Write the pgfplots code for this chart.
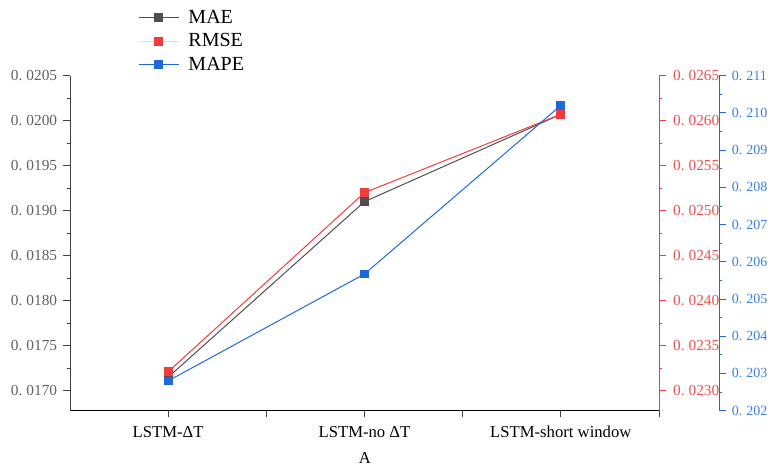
\documentclass[border=0pt]{standalone}
\usepackage{fontspec}
\setmainfont{Liberation Serif}
\usepackage{pgfplots}
\pgfplotsset{compat=1.18}
\definecolor{maec}{HTML}{4F4F4F}
\definecolor{rmsec}{HTML}{F03C3C}
\definecolor{rmsetick}{HTML}{F05050}
\definecolor{rmseleg}{HTML}{FFD0D0}
\definecolor{mapec}{HTML}{1F68DC}
\definecolor{mapetick}{HTML}{3A80E0}
\definecolor{lgray}{HTML}{606060}
\newcommand{\dsp}{\hspace{3pt}}
\begin{document}
\begin{tikzpicture}
\path[use as bounding box] (0,0) rectangle (576.75pt,349.5pt);
\pgfplotsset{
  every axis/.append style={
    scale only axis, anchor=south west, at={(52.5pt,41.5pt)},
    height=251.25pt, xmin=-0.5, scaled y ticks=false,
    tick align=outside, major tick length=5pt, minor tick length=2.5pt,
    line width=0.6pt,
  },
}
% main axis: MAE
\begin{axis}[
  width=441.75pt, xmax=2.5,
  ymin=0.016778, ymax=0.0205,
  axis x line*=bottom, axis y line*=left,
  ytick={0.0170,0.0175,0.0180,0.0185,0.0190,0.0195,0.0200,0.0205},
  yticklabels={0.\dsp 0170,0.\dsp 0175,0.\dsp 0180,0.\dsp 0185,0.\dsp 0190,0.\dsp 0195,0.\dsp 0200,0.\dsp 0205},
  minor y tick num=1,
  yticklabel style={font=\fontsize{11.5}{13}\selectfont, text=lgray, xshift=-1pt},
  xtick={0,0.5,1,1.5,2,2.5},
  xticklabels={LSTM-ΔT,,LSTM-no ΔT,,LSTM-short window,},
  xticklabel style={font=\fontsize{12.5}{14}\selectfont, yshift=-3pt},
  x axis line style={black}, y axis line style={black!75},
  every tick/.style={black!75, line width=0.6pt},
  legend style={draw=none, fill=none, at={(0.115,1.205)}, anchor=north west,
    font=\fontsize{15}{17}\selectfont, row sep=2.3pt, inner sep=0pt,
    nodes={inner sep=2pt}, legend cell align=left},
  legend image code/.code={\draw[mark repeat=2,mark phase=2,#1] plot coordinates {(0pt,0pt)(15pt,0pt)(30pt,0pt)};},
]
\addlegendimage{color=maec, line width=0.75pt, mark=square*, mark size=3pt, mark options={fill=maec}}
\addlegendentry{\hspace{5pt}MAE}
\addlegendimage{color=rmseleg, line width=0.75pt, mark=square*, mark size=3pt, mark options={fill=rmsec, draw=rmsec}}
\addlegendentry{\hspace{5pt}RMSE}
\addlegendimage{color=mapec, line width=0.75pt, mark=square*, mark size=3pt, mark options={fill=mapec}}
\addlegendentry{\hspace{5pt}MAPE}
\addplot[color=maec, line width=0.75pt, mark=square*, mark size=2.9pt, mark options={fill=maec}, forget plot]
  coordinates {(0,0.01715) (1,0.0191) (2,0.02007)};
\end{axis}
% second axis: RMSE
\begin{axis}[
  width=441.75pt, xmax=2.5,
  ymin=0.022778, ymax=0.0265,
  axis x line=none, axis y line*=right,
  ytick={0.0230,0.0235,0.0240,0.0245,0.0250,0.0255,0.0260,0.0265},
  yticklabels={0.\dsp 0230,0.\dsp 0235,0.\dsp 0240,0.\dsp 0245,0.\dsp 0250,0.\dsp 0255,0.\dsp 0260,0.\dsp 0265},
  minor y tick num=1,
  yticklabel style={font=\fontsize{11.5}{13}\selectfont, text=rmsetick, xshift=2pt},
  y axis line style={rmsec}, every tick/.style={rmsec, line width=0.6pt},
]
\addplot[color=rmsec, line width=0.75pt, mark=square*, mark size=2.9pt, mark options={fill=rmsec}]
  coordinates {(0,0.02321) (1,0.0252) (2,0.02607)};
\end{axis}
% third axis: MAPE
\begin{axis}[
  width=486.75pt, xmax=2.806,
  ymin=0.202, ymax=0.211,
  axis x line=none, axis y line*=right,
  ytick={0.202,0.203,0.204,0.205,0.206,0.207,0.208,0.209,0.210,0.211},
  yticklabels={0.\dsp 202,0.\dsp 203,0.\dsp 204,0.\dsp 205,0.\dsp 206,0.\dsp 207,0.\dsp 208,0.\dsp 209,0.\dsp 210,0.\dsp 211},
  minor y tick num=1,
  yticklabel style={font=\fontsize{10.5}{12}\selectfont, text=mapetick, xshift=1pt},
  y axis line style={mapec}, every tick/.style={mapec, line width=0.6pt},
]
\addplot[color=mapec, line width=0.75pt, mark=square*, mark size=2.9pt, mark options={fill=mapec}]
  coordinates {(0,0.2028) (1,0.20567) (2,0.2102)};
\end{axis}
\node[font=\fontsize{12.5}{14}\selectfont] at (273.75pt,6pt) {A};
\end{tikzpicture}
\end{document}
